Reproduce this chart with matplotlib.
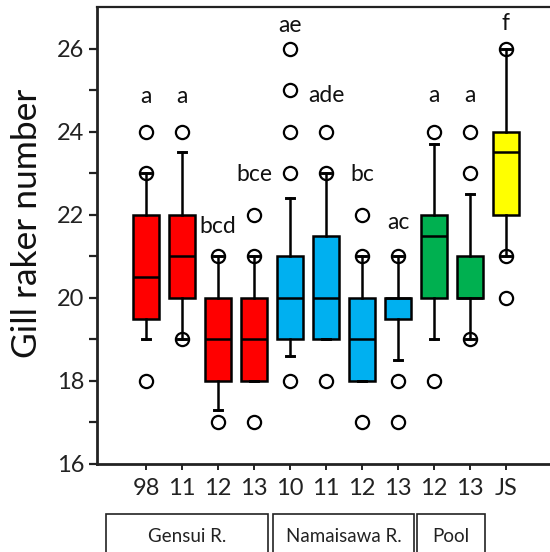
import matplotlib
matplotlib.use("Agg")
import matplotlib.pyplot as plt
from matplotlib.patches import Rectangle
import matplotlib.transforms as mtrans

plt.rcParams['font.family'] = ['Lato', 'DejaVu Sans']

# ---- data ----
tick_labels = ["98", "11", "12", "13", "10", "11", "12", "13", "12", "13", "JS"]
q1     = [19.5, 20.0, 18.0, 18.0, 19.0, 19.0, 18.0, 19.5, 20.0, 20.0, 22.0]
median = [20.5, 21.0, 19.0, 19.0, 20.0, 20.0, 19.0, 20.0, 21.5, 20.0, 23.5]
q3     = [22.0, 22.0, 20.0, 20.0, 21.0, 21.5, 20.0, 20.0, 22.0, 21.0, 24.0]
whislo = [19.0, 19.0, 17.3, 18.0, 18.6, 19.0, 18.0, 18.5, 19.0, 19.0, 21.0]
whishi = [23.0, 23.5, 21.0, 21.0, 22.4, 23.0, 21.0, 21.0, 23.7, 22.5, 26.0]
fliers = [
    [18, 23, 24],
    [19, 24],
    [17, 21],
    [17, 21, 22],
    [18, 23, 24, 25, 26],
    [18, 23, 24],
    [17, 21, 22],
    [17, 18, 21],
    [18, 24],
    [19, 23, 24],
    [20, 21, 26],
]
sig_letters = ["a", "a", "bcd", "bce", "ae", "ade", "bc", "ac", "a", "a", "f"]
letter_y    = [24.7, 24.7, 21.55, 22.8, 26.4, 24.72, 22.8, 21.65, 24.72, 24.72, 26.45]
box_colors = ["#FF0000"] * 4 + ["#00B0F0"] * 4 + ["#00B050"] * 2 + ["#FFFF00"]
groups = ["Gensui R.", "Namaisawa R.", "Pool"]
group_spans = [(-0.11, 4.39), (4.53, 8.44), (8.53, 10.42)]

# ---- figure ----
fig = plt.figure(figsize=(5.5, 5.52), dpi=100)
ax = fig.add_axes([97 / 550, 1 - 464 / 552, 1 - 97 / 550, (464 - 7) / 552])

positions = list(range(1, len(tick_labels) + 1))
stats = []
for i in range(len(tick_labels)):
    stats.append(dict(q1=q1[i], med=median[i], q3=q3[i],
                      whislo=whislo[i], whishi=whishi[i],
                      fliers=fliers[i], label=tick_labels[i]))

lw = 1.8
bp = ax.bxp(stats, positions=positions, widths=0.72, capwidths=0.2,
            patch_artist=True, showfliers=True,
            boxprops=dict(linewidth=lw, edgecolor="black"),
            medianprops=dict(color="black", linewidth=lw),
            whiskerprops=dict(color="black", linewidth=lw),
            capprops=dict(color="black", linewidth=lw + 0.3),
            flierprops=dict(marker="o", markersize=9.5, markerfacecolor="none",
                            markeredgecolor="black", markeredgewidth=1.6))
for patch, c in zip(bp["boxes"], box_colors):
    patch.set_facecolor(c)
for m in bp["medians"]:
    m.set_solid_capstyle("butt")

for x, s, y in zip(positions, sig_letters, letter_y):
    ax.text(x, y, s, ha="center", va="baseline", fontsize=16.5, color="#111111")

ax.set_ylim(16, 27)
ax.set_xlim(1 - 49 / 36, 11 + 44 / 36)
ax.set_yticks([16, 18, 20, 22, 24, 26])
ax.set_yticks(range(17, 27, 2), minor=True)
ax.set_xticks(positions)
ax.set_xticklabels(tick_labels)
ax.tick_params(axis="y", which="both", direction="out", length=6, width=1.6,
               labelsize=17, pad=3, colors="#222222")
ax.tick_params(axis="x", direction="out", length=4, width=1.4,
               labelsize=17, pad=6, colors="#222222")
ax.spines["right"].set_visible(False)
ax.spines["left"].set_linewidth(2.0)
ax.spines["bottom"].set_linewidth(2.0)
ax.spines["top"].set_linewidth(1.6)
for sp in ax.spines.values():
    sp.set_color("#222222")

fig.text(27.5 / 550, 1 - 223.5 / 552, "Gill raker number", rotation=90,
         ha="center", va="center", fontsize=25.5, color="#111111")

# group boxes below the axis
trans = mtrans.blended_transform_factory(ax.transData, fig.transFigure)
y_top = 1 - 514 / 552
for name, (x0, x1) in zip(groups, group_spans):
    rect = Rectangle((x0, -0.2), x1 - x0, y_top + 0.2, transform=trans,
                     fill=False, edgecolor="#222222", linewidth=1.2, clip_on=False)
    fig.add_artist(rect)
    ax.text((x0 + x1) / 2, 1 - 536 / 552, name, transform=trans,
            ha="center", va="center", fontsize=13.5, color="#222222", clip_on=False)

fig.savefig("out.png", dpi=100)
